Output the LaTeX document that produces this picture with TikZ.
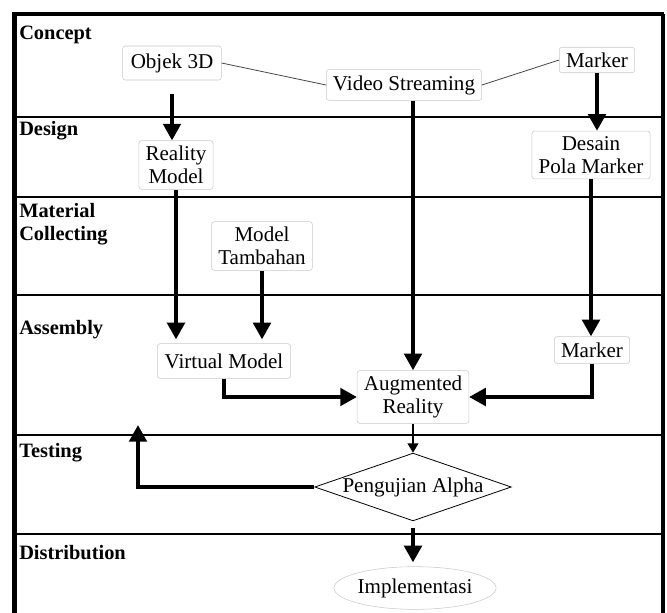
\documentclass[tikz,border=0pt]{standalone}
\usepackage{fontspec}
\setmainfont{Liberation Serif}
\usepackage{tikz}
\usetikzlibrary{positioning,arrows.meta,shapes.geometric}

\definecolor{boxgray}{RGB}{200,200,200}
\definecolor{linkgray}{RGB}{70,70,70}
\newcommand{\boxfont}{\fontsize{15.8}{17.3}\selectfont}
\newcommand{\lanefont}{\fontsize{15.3}{17.3}\selectfont\bfseries}

\begin{document}
\begin{tikzpicture}[
  x=0.75pt, y=-0.75pt,
  box/.style={draw=boxgray, rounded corners=2pt, fill=white, inner xsep=5pt, inner ysep=4pt, font=\boxfont, align=center},
  lane/.style={font=\lanefont, anchor=north west, inner sep=0pt, align=left},
  flow/.style={-{Triangle[length=12.5pt,width=13pt]}, line width=3pt},
  smallflow/.style={-{Triangle[length=7pt,width=8pt]}, line width=1.5pt},
  link/.style={draw=linkgray, line width=0.6pt}
]
  \useasboundingbox (0,0) rectangle (667,613);

  % frame and lanes
  \foreach \ly in {117,197,295,435,534}
    \draw[line width=2.2pt] (14.5,\ly) -- (663,\ly);
  \draw[line width=3pt] (14.5,14) -- (664,14);
  \draw[line width=2.5pt] (663,14) -- (663,613);
  \draw[line width=3.75pt] (14.5,12.5) -- (14.5,613);

  \node[lane] (concept) at (19,26) {Concept};
  \node[lane] (design) at (19,121) {Design};
  \node[lane] (material) at (19,203) {Material\\Collecting};
  \node[lane] (assembly) at (19,320) {Assembly};
  \node[lane] (testing) at (19,443) {Testing};
  \node[lane] (distribution) at (19,545) {Distribution};

  % nodes
  \node[box, minimum height=25.5pt, minimum width=74pt] (objek) at (172,63) {Objek 3D};
  \node[box, minimum height=23pt] (video) at (404,85) {Video Streaming};
  \node[box] (marker) at (597,60) {Marker};
  \node[box] (desain) at (591,155) {Desain\\Pola Marker};
  \node[box] (reality) at (176,165) {Reality\\Model};
  \node[box] (tambahan) at (262,246) {Model\\Tambahan};
  \node[box, minimum height=26pt, minimum width=100pt] (virtual) at (224,361) {Virtual Model};
  \node[box, minimum height=20pt] (marker2) at (592,350) {Marker};
  \node[box, minimum height=39pt] (augmented) at (413,397) {Augmented\\Reality};
  \node[diamond, draw, line width=0.6pt, aspect=2.9, inner sep=0pt, minimum width=143pt, minimum height=49pt, font=\boxfont] (pengujian) at (413,487) {Pengujian Alpha};
  \node[ellipse, draw=boxgray, minimum width=115.5pt, minimum height=32pt, inner sep=0pt, font=\boxfont] (implementasi) at (415,588) {Implementasi};
  \coordinate (balik) at (138,425);

  % connectors
  \draw[link] (objek.east) -- (video.west);
  \draw[link] (video.east) -- (marker.west);
  \draw[flow, shorten <=10pt] (objek.south) -- (objek.south |- reality.north);
  \draw[flow] (marker.south) -- (marker.south |- desain.north);
  \draw[flow] (augmented.north |- video.south) -- (augmented.north);
  \draw[flow, shorten >=3pt] (reality.south) -- (reality.south |- virtual.north);
  \draw[flow, shorten >=3pt] (tambahan.south) -- (tambahan.south |- virtual.north);
  \draw[flow] (desain.south) -- (desain.south |- marker2.north);
  \draw[flow] (virtual.south) |- (augmented.west);
  \draw[flow] (marker2.south) |- (augmented.east);
  \draw[smallflow] (augmented.south) -- (pengujian.north);
  \draw[flow] (pengujian.west) -| (balik);
  \draw[flow, shorten <=5pt, shorten >=3pt] (pengujian.south) -- (pengujian.south |- implementasi.north);
\end{tikzpicture}
\end{document}
